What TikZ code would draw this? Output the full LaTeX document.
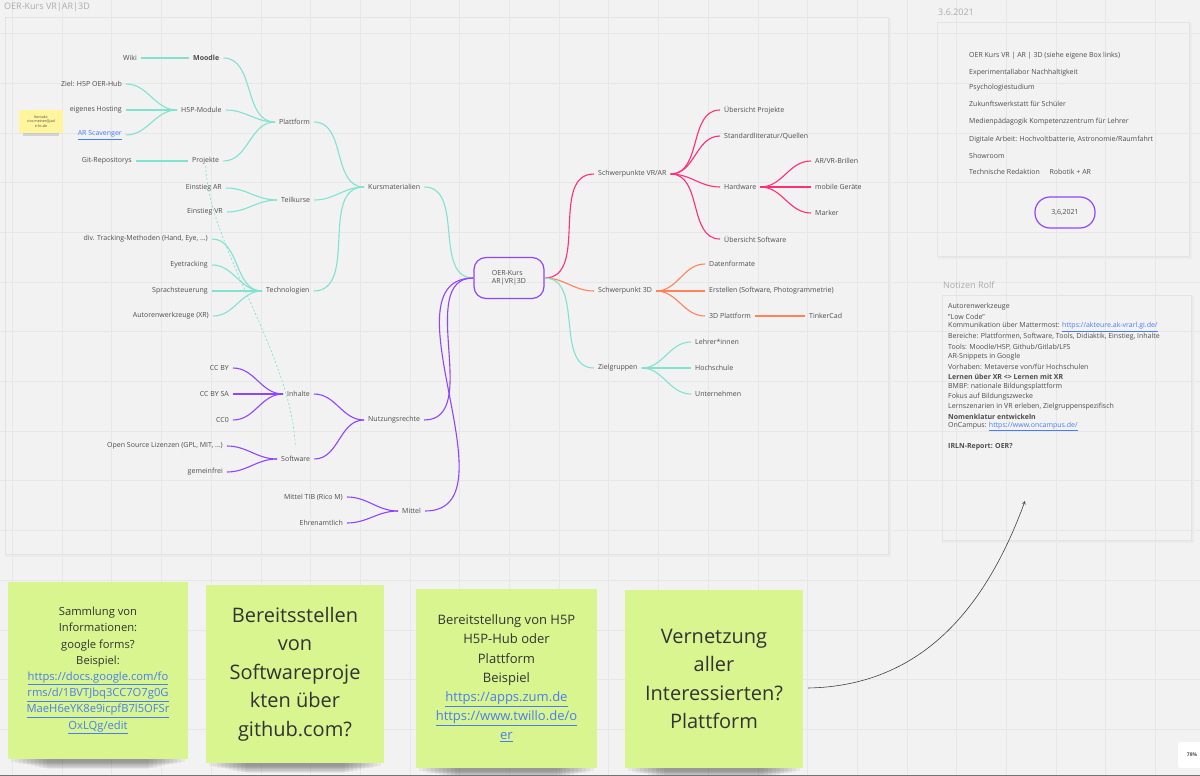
\documentclass[tikz,border=0pt]{standalone}
\usepackage{fontspec}
\setmainfont{Open Sans}
\usepackage{xcolor}
\usepackage{tikz}
\usetikzlibrary{calc,arrows,positioning}

\definecolor{mcyan}{HTML}{7FE3D0}
\definecolor{mpink}{HTML}{FF2D7A}
\definecolor{morange}{HTML}{FF8259}
\definecolor{mpurple}{HTML}{8F45FF}
\definecolor{linkblue}{HTML}{4A7CF6}
\definecolor{notegreen}{HTML}{D8F58F}
\definecolor{noteyellow}{HTML}{FFF59C}
\definecolor{board}{HTML}{F2F2F2}
\definecolor{gridline}{HTML}{E7E7E7}
\definecolor{mmtext}{HTML}{4D4D4D}

\newcommand{\mmfont}{\fontsize{7}{8.5}\selectfont}
\newcommand{\weblink}[1]{\textcolor{linkblue}{\underline{#1}}}
% soft shadow under a sticky note: left, right, bottom
\newcommand{\noteshadow}[3]{%
  \foreach \k in {0,...,9}
    \fill[black,opacity=0.045] ({#1+3+4*\k},{#3-4}) rectangle ({#2-3-4*\k},{#3+3+0.8*\k});}

\begin{document}
\begin{tikzpicture}[x=1pt,y=-1pt,
    mm/.style={font=\mmfont, text=mmtext, inner xsep=4pt, inner ysep=1.5pt},
    cyanline/.style={mcyan, line width=1.1pt},
    pinkline/.style={mpink, line width=1.1pt},
    orangeline/.style={morange, line width=1.1pt},
    purpleline/.style={mpurple, line width=1.1pt},
    frame/.style={draw=black!11, line width=0.5pt},
    frameshadow/.style={black!8, line width=2pt},
    frametitle/.style={font=\fontsize{9}{10}\selectfont, text=black!33, inner sep=0pt},
    boxtext/.style={font=\mmfont, text=mmtext, inner sep=0pt},
    notetext/.style={font=\fontsize{7}{8.5}\selectfont, text=mmtext, inner sep=0pt},
    sticky/.style={fill=notegreen, align=center, text=black!80, inner sep=0pt}]
\useasboundingbox (0,0) rectangle (1200,776);

% board with grid
\fill[board] (0,0) rectangle (1200,776);
\foreach \i in {0,...,23}
  \draw[gridline, line width=0.5pt] ({12.3+49.7*\i},0) -- ++(0,776);
\foreach \j in {0,...,15}
  \draw[gridline, line width=0.5pt] (0,{-16.3+49.7*\j}) -- ++(1200,0);

% frames
\draw[frameshadow] (6,555.5) -- (889.5,555.5) -- (889.5,18);
\draw[frame] (5,17) rectangle (888,554);
\node[frametitle, anchor=west] (maptitle) at (4,7) {OER-Kurs VR|AR|3D};
\draw[frameshadow] (938,257.5) -- (1190.5,257.5) -- (1190.5,23);
\draw[frame] (937,22) rectangle (1189,256);
\node[frametitle, anchor=west] (datetitle) at (938,12) {3.6.2021};
\draw[frameshadow] (942,541.5) -- (1192.5,541.5) -- (1192.5,296);
\draw[frame] (942,295) rectangle (1191,540);
\node[frametitle, anchor=west] (rolftitle) at (943,285) {Notizen Rolf};

% contact note
\fill[black,opacity=0.12] (23,131) rectangle (59,135.5);
\node[fill=noteyellow, minimum width=44pt, minimum height=23pt, align=center,
  font=\fontsize{3.6}{4.6}\selectfont, text=black!70, inner sep=0pt] (kontakt)
  at (41,121.5) {Kontakt:\\rico.meiner@jad\\e-hs.de};

% mind map, centre
\node[draw=mpurple, line width=1.2pt, rounded corners=12pt, minimum width=70pt,
  minimum height=41pt, align=left, font=\mmfont, text=mmtext] (oerkurs)
  at (509,278) {OER-Kurs\\AR|VR|3D};

% left, cyan
\node[mm, anchor=west] (kurs) at (364,187) {Kursmaterialien};
\node[mm, anchor=west] (plattform) at (275,122) {Plattform};
\node[mm, anchor=west, font=\mmfont\bfseries] (moodle) at (189,58) {Moodle};
\node[mm, anchor=east] (wiki) at (141,58) {Wiki};
\node[mm, anchor=west] (h5p) at (177,110) {H5P-Module};
\node[mm, anchor=east] (oerhub) at (126,84) {Ziel: H5P OER-Hub};
\node[mm, anchor=east] (hosting) at (126,110) {eigenes Hosting};
\node[mm, anchor=east] (scavenger) at (126,135) {\weblink{AR Scavenger}};
\node[mm, anchor=west] (projekte) at (188,161) {Projekte};
\node[mm, anchor=east] (gitrepo) at (136,161) {Git-Repositorys};
\node[mm, anchor=west] (teilkurse) at (277,200) {Teilkurse};
\node[mm, anchor=east] (einar) at (226,188) {Einstieg AR};
\node[mm, anchor=east] (einvr) at (227,212) {Einstieg VR};
\node[mm, anchor=west] (techno) at (262,291) {Technologien};
\node[mm, anchor=east] (tracking) at (212,239) {div. Tracking-Methoden (Hand, Eye, ...)};
\node[mm, anchor=east] (eyetrack) at (212,265) {Eyetracking};
\node[mm, anchor=east] (sprache) at (212,291) {Sprachsteuerung};
\node[mm, anchor=east] (autoren) at (213,316) {Autorenwerkzeuge (XR)};

% left, purple
\node[mm, anchor=west] (nutzung) at (364,420) {Nutzungsrechte};
\node[mm, anchor=west] (inhalte) at (283,394) {Inhalte};
\node[mm, anchor=east] (ccby) at (233,368) {CC BY};
\node[mm, anchor=east] (ccbysa) at (233,394) {CC BY SA};
\node[mm, anchor=east] (cczero) at (233,420) {CC0};
\node[mm, anchor=west] (software) at (277,459) {Software};
\node[mm, anchor=east] (opensource) at (227,446) {Open Source Lizenzen (GPL, MIT, ...)};
\node[mm, anchor=east] (gemeinfrei) at (227,472) {gemeinfrei};
\node[mm, anchor=west] (mittel) at (398,511) {Mittel};
\node[mm, anchor=east] (tib) at (347,497) {Mittel TIB (Rico M)};
\node[mm, anchor=east] (ehrenamt) at (347,523) {Ehrenamtlich};

% right
\node[mm, anchor=west] (vrar) at (594,174) {Schwerpunkte VR/AR};
\node[mm, anchor=west] (uebproj) at (720,110) {Übersicht Projekte};
\node[mm, anchor=west] (literatur) at (720,136) {Standardliteratur/Quellen};
\node[mm, anchor=west] (hardware) at (720,187) {Hardware};
\node[mm, anchor=west] (brillen) at (811,161) {AR/VR-Brillen};
\node[mm, anchor=west] (mobil) at (811,187) {mobile Geräte};
\node[mm, anchor=west] (marker) at (811,213) {Marker};
\node[mm, anchor=west] (uebsoft) at (720,239) {Übersicht Software};
\node[mm, anchor=west] (dreid) at (594,291) {Schwerpunkt 3D};
\node[mm, anchor=west] (formate) at (705,264) {Datenformate};
\node[mm, anchor=west] (erstellen) at (705,291) {Erstellen (Software, Photogrammetrie)};
\node[mm, anchor=west] (plattdrei) at (705,316) {3D Plattform};
\node[mm, anchor=west] (tinker) at (805,316) {TinkerCad};
\node[mm, anchor=west] (zielgr) at (594,368) {Zielgruppen};
\node[mm, anchor=west] (lehrer) at (691,342) {Lehrer*innen};
\node[mm, anchor=west] (hochschule) at (691,368) {Hochschule};
\node[mm, anchor=west] (firmen) at (691,394) {Unternehmen};

% branches
\foreach \p/\c in {oerkurs/kurs, kurs/plattform, kurs/teilkurse, kurs/techno,
    plattform/moodle, plattform/h5p, plattform/projekte, moodle/wiki,
    h5p/oerhub, h5p/hosting, h5p/scavenger, projekte/gitrepo,
    teilkurse/einar, teilkurse/einvr, techno/tracking, techno/eyetrack,
    techno/sprache, techno/autoren}
  \draw[cyanline] (\p.west) to[out=180,in=0] (\c.east);
\foreach \p/\c in {oerkurs/nutzung, oerkurs/mittel, nutzung/inhalte, nutzung/software,
    inhalte/ccby, inhalte/ccbysa, inhalte/cczero, software/opensource,
    software/gemeinfrei, mittel/tib, mittel/ehrenamt}
  \draw[purpleline] (\p.west) to[out=180,in=0] (\c.east);
\foreach \p/\c in {oerkurs/vrar, vrar/uebproj, vrar/literatur, vrar/hardware,
    vrar/uebsoft, hardware/brillen, hardware/mobil, hardware/marker}
  \draw[pinkline] (\p.east) to[out=0,in=180] (\c.west);
\foreach \p/\c in {oerkurs/dreid, dreid/formate, dreid/erstellen, dreid/plattdrei,
    plattdrei/tinker}
  \draw[orangeline] (\p.east) to[out=0,in=180] (\c.west);
\foreach \p/\c in {oerkurs/zielgr, zielgr/lehrer, zielgr/hochschule, zielgr/firmen}
  \draw[cyanline] (\p.east) to[out=0,in=180] (\c.west);
\draw[mcyan, line width=0.7pt, dash pattern=on 2pt off 2pt, shorten >=8pt]
  (projekte.south) .. controls +(3,80) and +(-4,-100) .. (software.north);

% date box
\foreach \y/\t in {56/{OER Kurs VR | AR | 3D (siehe eigene Box links)},
    73/{Experimentallabor Nachhaltigkeit}, 88/{Psychologiestudium},
    104/{Zukunftswerkstatt für Schüler},
    122/{Medienpädagogik Kompetenzzentrum für Lehrer},
    140/{Digitale Arbeit: Hochvoltbatterie, Astronomie/Raumfahrt},
    156/{Showroom}, 172/{Technische Redaktion\hspace{8pt} Robotik + AR}}
  \node[boxtext, anchor=west] at (969,\y) {\t};
\node[draw=mpurple, line width=1.2pt, rounded corners=15pt, minimum width=60pt,
  minimum height=31pt, font=\mmfont, text=mmtext] (datum) at (1065,212.5) {3,6,2021};

% notes Rolf
\foreach \t [count=\i from 0] in {{Autorenwerkzeuge}, {"Low Code"},
    {Kommunikation über Mattermost: \weblink{https://akteure.ak-vrarl.gi.de/}},
    {Bereiche: Plattformen, Software, Tools, Didiaktik, Einstieg, Inhalte},
    {Tools: Moodle/H5P, Github/Gitlab/LFS}, {AR-Snippets in Google},
    {Vorhaben: Metaverse von/für Hochschulen},
    {\bfseries Lernen über XR <> Lernen mit XR},
    {BMBF: nationale Bildungsplattform}, {Fokus auf Bildungszwecke},
    {Lernszenarien in VR erleben, Zielgruppenspezifisch},
    {\bfseries Nomenklatur entwickeln},
    {OnCampus: \weblink{https://www.oncampus.de/}}, {},
    {\bfseries IRLN-Report: OER?}}
  \node[notetext, anchor=west] at (948,{307+9.95*\i}) {\t};

% sticky notes
\noteshadow{8}{188}{759}
\noteshadow{206}{384}{763}
\noteshadow{416}{597}{768}
\noteshadow{625}{803}{768}
\node[sticky, minimum width=180pt, minimum height=177pt,
  font=\fontsize{11.2}{16.2}\selectfont] (sammlung) at (98,670.5)
  {Sammlung von\\Informationen:\\google forms?\\Beispiel:\\
   \weblink{https://docs.google.com/fo}\\\weblink{rms/d/1BVTJbq3CC7O7g0G}\\
   \weblink{MaeH6eYK8e9icpfB7l5OFSr}\\\weblink{OxLQg/edit}};
\node[sticky, minimum width=178pt, minimum height=178pt,
  font=\fontsize{20}{28.5}\selectfont] (github) at (295,674)
  {Bereitsstellen\\von\\Softwareproje\\kten über\\github.com?};
\node[sticky, minimum width=181pt, minimum height=179pt,
  font=\fontsize{13}{19.2}\selectfont] (hfuenfp) at (506.5,678.5)
  {Bereitstellung von H5P\\H5P-Hub oder\\Plattform\\Beispiel\\
   \weblink{https://apps.zum.de}\\\weblink{https://www.twillo.de/o}\\\weblink{er}};
\node[sticky, minimum width=178pt, minimum height=178pt,
  font=\fontsize{20}{28.5}\selectfont] (vernetzung) at (714,679)
  {Vernetzung\\aller\\Interessierten?\\Plattform};

% arrow to the notes
\coordinate (rolfpfeil) at (1025,501);
\draw[black!75, line width=0.6pt, -stealth]
  ([xshift=5pt,yshift=-9pt]vernetzung.east) .. controls +(112,-2) and +(-40,109) .. (rolfpfeil);

% zoom level and screen edge
\node[fill=white, rounded corners=2pt, minimum width=28pt, minimum height=26pt,
  font=\fontsize{5}{6}\selectfont\bfseries, text=black!70] (zoomlevel) at (1192,755) {78\%};
\fill[black!55] (0,774.5) rectangle (1200,776);
\end{tikzpicture}
\end{document}
